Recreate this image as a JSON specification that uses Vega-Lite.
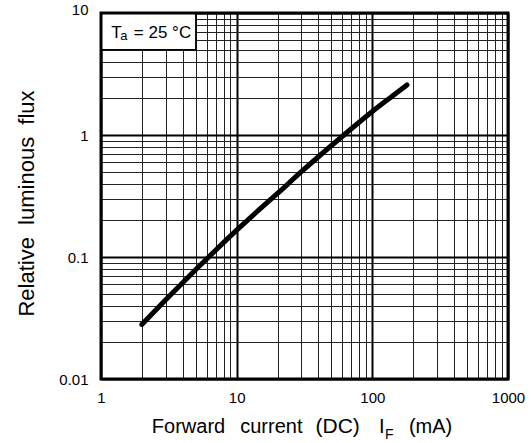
{
  "$schema": "https://vega.github.io/schema/vega-lite/v6.json",
  "width": 407,
  "height": 366,
  "autosize": "none",
  "padding": {"left": 101, "top": 13, "right": 23, "bottom": 64},
  "background": "white",
  "config": {"view": {"stroke": null}, "font": "Liberation Sans", "text": {"font": "Liberation Sans", "color": "black"}},
  "datasets": {
    "curve": [
      {"current": 2, "flux": 0.028},
      {"current": 3, "flux": 0.0446},
      {"current": 4, "flux": 0.0616},
      {"current": 5, "flux": 0.0789},
      {"current": 7, "flux": 0.1137},
      {"current": 10, "flux": 0.166},
      {"current": 15, "flux": 0.25},
      {"current": 20, "flux": 0.332},
      {"current": 30, "flux": 0.5},
      {"current": 50, "flux": 0.82},
      {"current": 70, "flux": 1.125},
      {"current": 100, "flux": 1.56},
      {"current": 140, "flux": 2.08},
      {"current": 180, "flux": 2.57}
    ]
  },
  "layer": [
    {
      "data": {"name": "curve"},
      "mark": {"type": "line", "color": "black", "strokeWidth": 5, "strokeCap": "round", "strokeJoin": "round", "interpolate": "monotone"},
      "encoding": {
        "x": {
          "field": "current", "type": "quantitative",
          "scale": {"type": "log", "domain": [1, 1000], "nice": false},
          "axis": {
            "values": [1,2,3,4,5,6,7,8,9,10,20,30,40,50,60,70,80,90,100,200,300,400,500,600,700,800,900,1000],
            "grid": true,
            "gridColor": {"condition": {"test": "indexof([1,10,100,1000], datum.value) >= 0", "value": "black"}, "value": "#222222"},
            "gridWidth": {"condition": {"test": "indexof([1,10,100,1000], datum.value) >= 0", "value": 2}, "value": 1},
            "gridOpacity": 1,
            "ticks": false, "tickSize": 0, "domain": false,
            "labelExpr": "indexof([1,10,100,1000], datum.value) >= 0 ? '' + datum.value : ''",
            "labelFont": "Liberation Sans", "labelFontSize": 15, "labelColor": "black",
            "labelPadding": 11, "labelFlush": false, "labelOverlap": false,
            "title": null
          }
        },
        "y": {
          "field": "flux", "type": "quantitative",
          "scale": {"type": "log", "domain": [0.01, 10], "nice": false},
          "axis": {
            "values": [0.01,0.02,0.03,0.04,0.05,0.06,0.07,0.08,0.09,0.1,0.2,0.3,0.4,0.5,0.6,0.7,0.8,0.9,1,2,3,4,5,6,7,8,9,10],
            "grid": true,
            "gridColor": {"condition": {"test": "indexof([0.01,0.1,1,10], datum.value) >= 0", "value": "black"}, "value": "#222222"},
            "gridWidth": {"condition": {"test": "indexof([0.01,0.1,1,10], datum.value) >= 0", "value": 2}, "value": 1},
            "gridOpacity": 1,
            "ticks": false, "tickSize": 0, "domain": false,
            "labelExpr": "indexof([0.01,0.1,1,10], datum.value) >= 0 ? '' + datum.value : ''",
            "labelOffset": {"condition": {"test": "datum.value == 10", "value": -4}, "value": 0},
            "labelFont": "Liberation Sans", "labelFontSize": 15, "labelColor": "black",
            "labelPadding": 13, "labelOverlap": false, "labelFlush": false,
            "title": "Relative\u00a0 luminous\u00a0 flux",
            "titleFont": "Liberation Sans", "titleFontSize": 22, "titleFontWeight": "normal", "titleColor": "black",
            "titleX": -68, "titleY": 190, "titleBaseline": "alphabetic", "titleAlign": "center", "titleAngle": 270
          }
        }
      }
    },
    {
      "data": {"values": [{}]},
      "mark": {"type": "rect", "fill": "white", "stroke": "black", "strokeWidth": 1.5},
      "encoding": {"x": {"datum": 1}, "x2": {"datum": 5}, "y": {"datum": 5}, "y2": {"datum": 10}}
    },
    {
      "data": {"values": [{}]},
      "mark": {"type": "text", "text": "T", "fontSize": 17, "align": "left", "baseline": "alphabetic"},
      "encoding": {"x": {"datum": 1.19}, "y": {"datum": 6.24}}
    },
    {
      "data": {"values": [{}]},
      "mark": {"type": "text", "text": "a", "fontSize": 13, "align": "left", "baseline": "alphabetic"},
      "encoding": {"x": {"datum": 1.385}, "y": {"datum": 6.06}}
    },
    {
      "data": {"values": [{}]},
      "mark": {"type": "text", "text": "= 25 °C", "fontSize": 17, "align": "left", "baseline": "alphabetic"},
      "encoding": {"x": {"datum": 1.745}, "y": {"datum": 6.24}}
    },
    {
      "data": {"values": [{}]},
      "mark": {"type": "text", "text": "Forward", "fontSize": 20, "align": "left", "baseline": "alphabetic"},
      "encoding": {"x": {"datum": 2.37}, "y": {"datum": 0.00361}}
    },
    {
      "data": {"values": [{}]},
      "mark": {"type": "text", "text": "current", "fontSize": 20, "align": "left", "baseline": "alphabetic"},
      "encoding": {"x": {"datum": 10.62}, "y": {"datum": 0.00361}}
    },
    {
      "data": {"values": [{}]},
      "mark": {"type": "text", "text": "(DC)", "fontSize": 21, "align": "left", "baseline": "alphabetic"},
      "encoding": {"x": {"datum": 38.1}, "y": {"datum": 0.00361}}
    },
    {
      "data": {"values": [{}]},
      "mark": {"type": "text", "text": "I", "fontSize": 20, "align": "left", "baseline": "alphabetic"},
      "encoding": {"x": {"datum": 112}, "y": {"datum": 0.00361}}
    },
    {
      "data": {"values": [{}]},
      "mark": {"type": "text", "text": "F", "fontSize": 14, "align": "left", "baseline": "alphabetic"},
      "encoding": {"x": {"datum": 124}, "y": {"datum": 0.00322}}
    },
    {
      "data": {"values": [{}]},
      "mark": {"type": "text", "text": "(mA)", "fontSize": 20, "align": "left", "baseline": "alphabetic"},
      "encoding": {"x": {"datum": 186}, "y": {"datum": 0.00361}}
    },
    {
      "data": {"values": [{}]},
      "mark": {"type": "rect", "filled": false, "stroke": "black", "strokeWidth": 3},
      "encoding": {"x": {"datum": 1}, "x2": {"datum": 1000}, "y": {"datum": 0.01}, "y2": {"datum": 10}}
    }
  ]
}
